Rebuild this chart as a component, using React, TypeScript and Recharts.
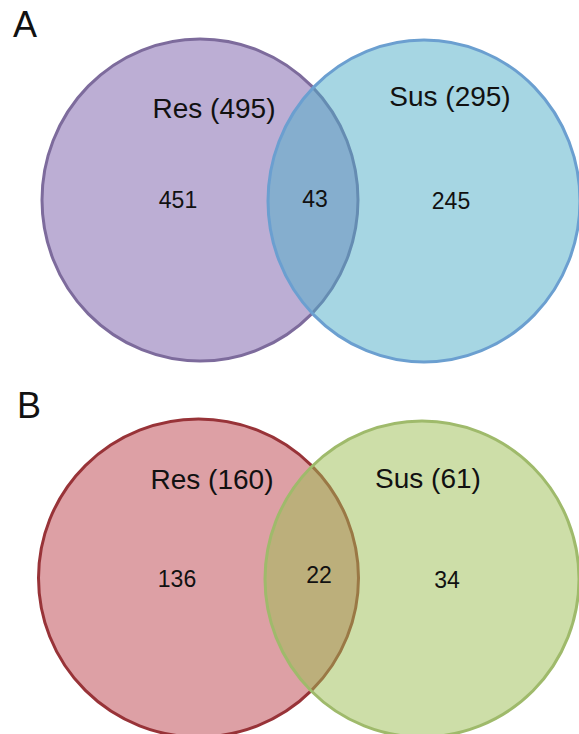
import React from "react"
import { ScatterChart, Scatter, XAxis, YAxis } from "recharts"

// values
const panelLetters = ["A", "B"]
const setNames = ["Res", "Sus"]
const totalsA = [495, 295]
const totalsB = [160, 61]
const regionsA = [451, 43, 245] // Res only, both, Sus only
const regionsB = [136, 22, 34]

// layout, in chart units (1 unit = 1px)
const W = 579
const PANEL_H = [370, 364]
const CIRCLES = [
  [
    { x: 200, y: 200, rx: 158, ry: 161 },
    { x: 424, y: 201, rx: 156, ry: 161 },
  ],
  [
    { x: 198.5, y: 208, rx: 160, ry: 159 },
    { x: 422, y: 209, rx: 157, ry: 158 },
  ],
]
const NAME_POS = [
  [{ x: 214, y: 108 }, { x: 450, y: 96 }],
  [{ x: 212, y: 109 }, { x: 428, y: 108 }],
]
const COUNT_POS = [
  [{ x: 178, y: 200 }, { x: 315, y: 199 }, { x: 451, y: 201 }],
  [{ x: 177, y: 209 }, { x: 319, y: 205 }, { x: 447, y: 210 }],
]
const LETTER_POS = [{ x: 25, y: 24 }, { x: 29, y: 35 }]

const STYLES = [
  [
    { fill: "#795da9", stroke: "#7d6b9c" },
    { fill: "#4dadc7", stroke: "#6b9fd0" },
  ],
  [
    { fill: "#bb414b", stroke: "#983338" },
    { fill: "#9bbd51", stroke: "#9fba6b" },
  ],
]

const FONT = "'Liberation Sans', Arial, sans-serif"

function VennPanel({ idx, totals, regions }: { idx: number; totals: number[]; regions: number[] }) {
  const h = PANEL_H[idx]
  const circles = CIRCLES[idx].map((c, i) => ({ ...c, i }))
  const names = setNames.map((n, i) => ({ ...NAME_POS[idx][i], label: `${n} (${totals[i]})` }))
  const counts = regions.map((v, i) => ({ ...COUNT_POS[idx][i], label: String(v) }))
  const letter = [{ ...LETTER_POS[idx], label: panelLetters[idx] }]
  // px per data unit
  const sx = W / W
  const sy = h / h

  const textShape = (size: number) => (p: any) => (
    <text
      x={p.cx}
      y={p.cy}
      textAnchor="middle"
      dominantBaseline="central"
      fontFamily={FONT}
      fontSize={size}
      fill="#111"
    >
      {p.payload.label}
    </text>
  )

  return (
    <ScatterChart width={W} height={h} margin={{ top: 0, right: 0, bottom: 0, left: 0 }}>
      <XAxis type="number" dataKey="x" domain={[0, W]} hide />
      <YAxis type="number" dataKey="y" domain={[0, h]} reversed hide />
      {circles.map((c) => (
        <Scatter
          key={c.i}
          data={[c]}
          isAnimationActive={false}
          shape={(p: any) => (
            <ellipse
              cx={p.cx}
              cy={p.cy}
              rx={p.payload.rx * sx}
              ry={p.payload.ry * sy}
              fill={STYLES[idx][c.i].fill}
              fillOpacity={0.5}
              stroke={STYLES[idx][c.i].stroke}
              strokeWidth={3}
            />
          )}
        />
      ))}
      <Scatter data={names} isAnimationActive={false} shape={textShape(28)} />
      <Scatter data={counts} isAnimationActive={false} shape={textShape(23)} />
      <Scatter data={letter} isAnimationActive={false} shape={textShape(36)} />
    </ScatterChart>
  )
}

export default function App() {
  return (
    <div style={{ width: W, background: "#fff" }}>
      <style>{`body{margin:0}`}</style>
      <VennPanel idx={0} totals={totalsA} regions={regionsA} />
      <VennPanel idx={1} totals={totalsB} regions={regionsB} />
    </div>
  )
}
